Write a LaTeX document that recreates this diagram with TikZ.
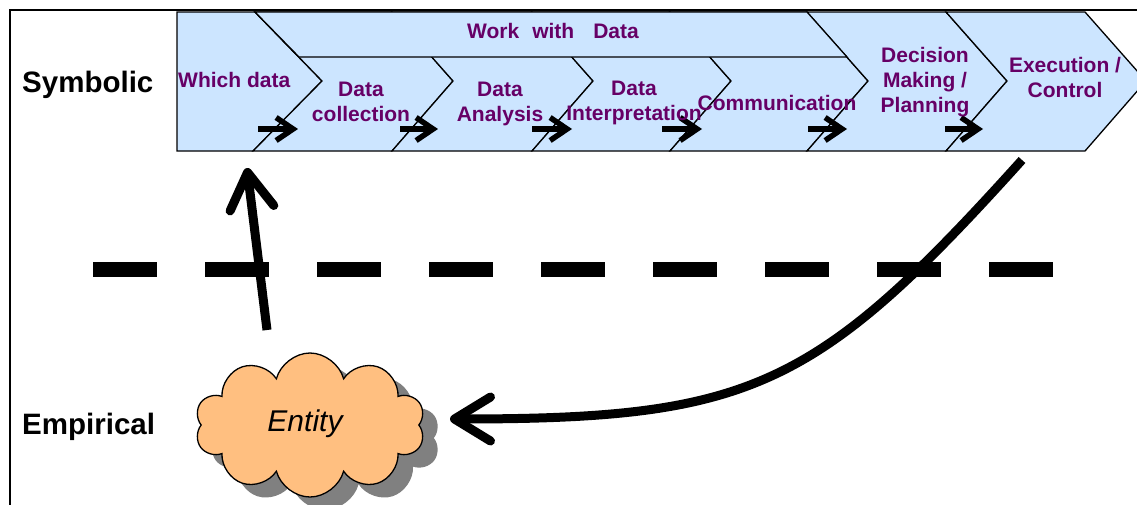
\documentclass[tikz,border=0pt]{standalone}
\usepackage{fontspec}
\setmainfont{Liberation Sans}
\usetikzlibrary{arrows.meta,shapes.symbols,shadows}
\definecolor{bandblue}{HTML}{CCE5FF}
\definecolor{txtpurple}{HTML}{660066}
\definecolor{cloudfill}{HTML}{FFBF80}
\tikzset{
  chev/.style={fill=bandblue, draw=black, line width=1.3pt, line join=miter},
  steplabel/.style={text=txtpurple, font=\bfseries\fontsize{21}{25}\selectfont, align=center, inner sep=0pt},
  sidelabel/.style={font=\bfseries\fontsize{29.5}{33}\selectfont, anchor=base west, inner sep=0pt},
  miniarrow/.style={line width=5.5pt, -{Straight Barb[length=17pt,width=23pt]}},
  bigarrow/.style={line width=9pt, -{Straight Barb[length=36pt,width=44pt,round]}},
  sepline/.style={line width=15pt, dash pattern=on 64pt off 48pt},
}
\begin{document}
\begin{tikzpicture}[x=1pt,y=-1pt]
\useasboundingbox (0,0) rectangle (1137,504);
\clip (0,0) rectangle (1137,504);
\fill[white] (0,0) rectangle (1137,504);
% frame
\draw[line width=2pt] (10,520) -- (10,10) -- (1150,10);
% chevrons
\path[chev] (177,12) -- (255,12) -- (322,81) -- (253,151) -- (177,151) -- cycle;
\path[chev] (255,12) -- (392,12) -- (453,81) -- (392,151) -- (253,151) -- (322,81) -- cycle;
\path[chev] (392,12) -- (532,12) -- (593,81) -- (532,151) -- (392,151) -- (453,81) -- cycle;
\path[chev] (532,12) -- (670,12) -- (731,81) -- (670,151) -- (532,151) -- (593,81) -- cycle;
\path[chev] (670,12) -- (807,12) -- (868,81) -- (807,151) -- (670,151) -- (731,81) -- cycle;
\path[chev] (807,12) -- (946,12) -- (1007,81) -- (946,151) -- (807,151) -- (868,81) -- cycle;
\path[chev] (946,12) -- (1085,12) -- (1146,81) -- (1085,151) -- (946,151) -- (1007,81) -- cycle;
% work with data bar
\path[chev] (255,12) -- (807,12) -- (847,57) -- (299,57) -- cycle;
% small arrows
\draw[miniarrow] (258,129) -- (298,129);
\draw[miniarrow] (400,129) -- (438,129);
\draw[miniarrow] (532,129) -- (572,129);
\draw[miniarrow] (662,129) -- (702,129);
\draw[miniarrow] (808,129) -- (847,129);
\draw[miniarrow] (945,129) -- (983,129);
% texts
\node[steplabel] (work) at (553,31) {Work\hspace{13pt}with\hspace{19pt}Data};
\node[steplabel, anchor=base west] (which) at (178,87) {Which data};
\node[steplabel, anchor=north] (coll) at (361,82) {Data\\collection};
\node[steplabel, anchor=north] (anal) at (500,82) {Data\\Analysis};
\node[steplabel, anchor=north] (interp) at (634,81) {Data\\Interpretation};
\node[steplabel, anchor=north] (comm) at (777,95) {Communication};
\node[steplabel, anchor=north] (dec) at (925,47) {Decision\\Making /\\Planning};
\node[steplabel, anchor=north] (exec) at (1065,57) {Execution /\\Control};
% side labels
\node[sidelabel] (sym) at (22,92) {Symbolic};
\node[sidelabel] (emp) at (22,434) {Empirical};
% separator
\draw[sepline] (93,269) -- (1053,269);
% cloud
\node[cloud, cloud puffs=10, aspect=1.6, minimum width=230pt, minimum height=144pt,
      fill=cloudfill, draw, line width=1.3pt,
      drop shadow={shadow xshift=15pt, shadow yshift=-13pt, shadow scale=1, fill=gray, opacity=1},
      font=\itshape\fontsize{30}{33}\selectfont] (ent) at (310,425) {};
\node[font=\itshape\fontsize{30}{33}\selectfont, inner sep=0pt] (entlbl) at (305,424) {Entity};
% big arrows
\coordinate (upS) at (267,330);
\coordinate (upE) at (247,168);
\draw[bigarrow] (upS) -- (upE);
\coordinate (cS) at (1022,160);
\coordinate (cE) at (450,419);
\draw[bigarrow] (cS) .. controls (815,390) and (750,419) .. (cE);
\end{tikzpicture}
\end{document}
